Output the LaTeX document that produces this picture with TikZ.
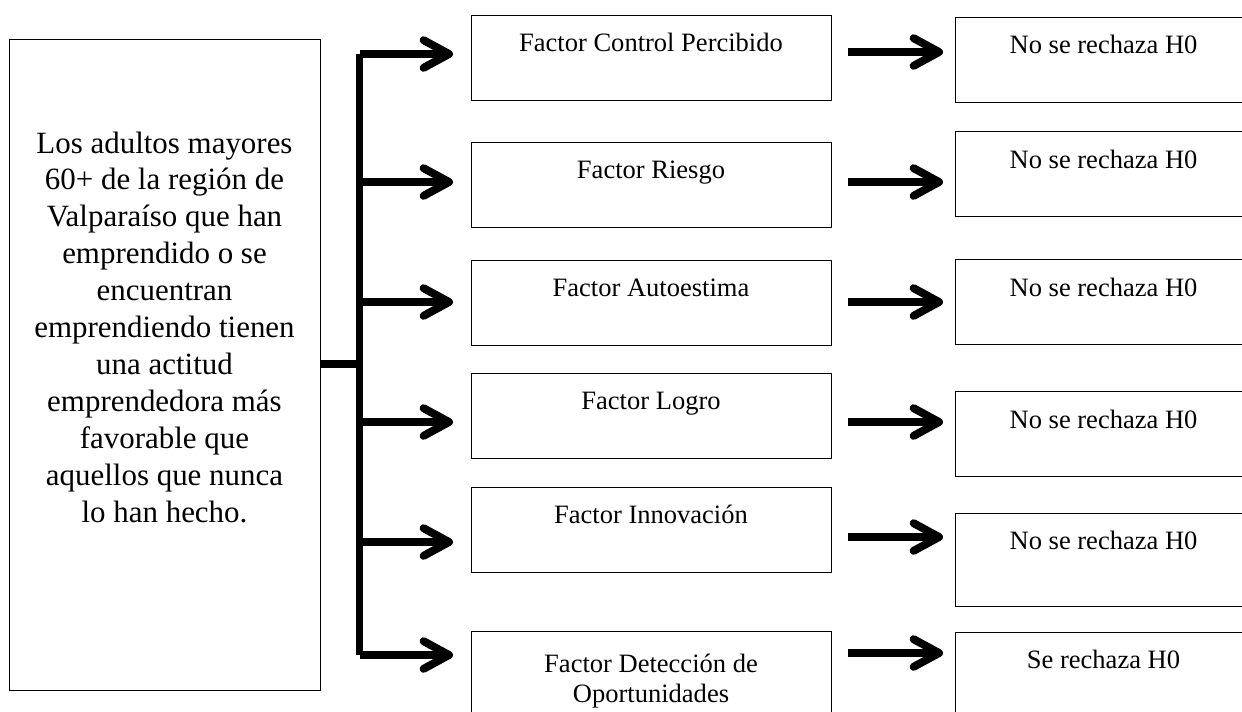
\documentclass[tikz,border=0pt]{standalone}
\usepackage{fontspec}
\setmainfont{Liberation Serif}
\usetikzlibrary{arrows.meta,calc}
\def\px{0.4525pt}
\begin{document}
\begin{tikzpicture}[x=0.4525pt,y=-0.4525pt,
  box/.style={draw, line width=0.55pt, inner sep=0pt, anchor=north west},
  midbox/.style={box, minimum width=360*\px, minimum height=84.5*\px},
  resbox/.style={box, minimum width=297*\px, minimum height=85*\px},
  smalltxt/.style={font=\fontsize{12}{13.8}\selectfont, inner sep=0pt, align=center},
  bigtxt/.style={font=\fontsize{14}{16.7}\selectfont, inner sep=0pt, align=center},
  thickline/.style={line width=3.6pt},
  arr/.style={line width=3.6pt, -{Straight Barb[length=11.5pt,width=12.5pt,round]}}]
\useasboundingbox (0,0) rectangle (1242,711);

% left box
\node[box, minimum width=311*\px, minimum height=651*\px] (L) at (9,39) {};
\node[bigtxt] (Ltxt) at (164.5,327) {Los adultos mayores\\60+ de la región de\\Valparaíso que han\\emprendido o se\\encuentran\\emprendiendo tienen\\una actitud\\emprendedora más\\favorable que\\aquellos que nunca\\lo han hecho.};

% middle boxes
\foreach \i/\t in {1/15,2/142,3/260,4/373,5/487,6/631}{
  \node[midbox] (m\i) at (471,\t) {};
}
\foreach \i/\t/\txt in {1/51/Factor Control Percibido,2/178/Factor Riesgo,3/296/Factor Autoestima,4/409/Factor Logro,5/523/Factor Innovación}{
  \node[smalltxt, anchor=base] (mt\i) at (651,\t) {\txt};
}
\node[smalltxt] (mt6) at (651,681) {Factor Detección de\\Oportunidades};

% result boxes
\foreach \i/\t in {1/17,2/131,3/259,4/391,6/632}{
  \node[resbox] (r\i) at (955,\t) {};
}
\node[box, minimum width=297*\px, minimum height=93*\px] (r5) at (955,513) {};
\foreach \i/\t/\txt in {1/53/No se rechaza H0,2/168/No se rechaza H0,3/296/No se rechaza H0,4/428/No se rechaza H0,5/549/No se rechaza H0,6/668/Se rechaza H0}{
  \node[smalltxt, anchor=base] (rt\i) at (1103.5,\t) {\txt};
}

% bracket
\coordinate (b1) at (359.5,54);
\coordinate (b6) at (359.5,655);
\coordinate (bm) at (359.5,364);
\draw[thickline] (L.east |- bm) -- (bm);
\draw[thickline, line cap=square] (b1) -- (b6);

% left arrows
\foreach \i/\y in {1/54,2/182,3/302,4/422,5/542,6/655}{
  \coordinate (s\i) at (359.5,\y);
  \coordinate (e\i) at (453,\y);
  \draw[arr] (s\i) -- (e\i);
}
% right arrows
\foreach \i/\y in {1/52,2/182,3/302,4/422,5/537,6/653}{
  \coordinate (p\i) at (848,\y);
  \coordinate (q\i) at (943,\y);
  \draw[arr] (p\i) -- (q\i);
}
\end{tikzpicture}
\end{document}
